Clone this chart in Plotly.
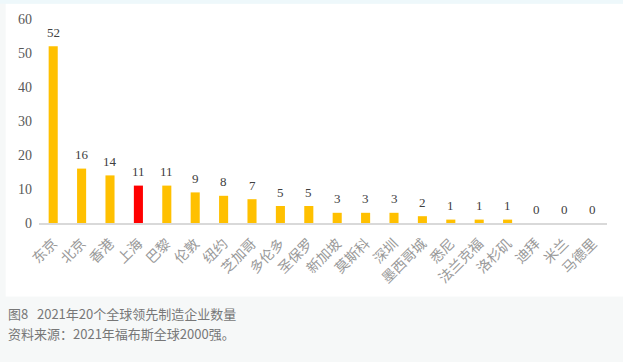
import plotly.graph_objects as go

cities = ["东京", "北京", "香港", "上海", "巴黎", "伦敦", "纽约", "芝加哥", "多伦多", "圣保罗",
          "新加坡", "莫斯科", "深圳", "墨西哥城", "悉尼", "法兰克福", "洛杉矶", "迪拜", "米兰", "马德里"]
counts = [52, 16, 14, 11, 11, 9, 8, 7, 5, 5, 3, 3, 3, 2, 1, 1, 1, 0, 0, 0]
highlight = "上海"
y_ticks = [0, 10, 20, 30, 40, 50, 60]
caption1 = "图8\u00a0\u00a0\u00a02021年20个全球领先制造企业数量"
caption2 = "资料来源：2021年福布斯全球2000强。"

colors = ["#ff0000" if c == highlight else "#ffc000" for c in cities]

fig = go.Figure()
fig.add_trace(go.Bar(x=cities, y=counts, marker=dict(color=colors, line=dict(width=0)),
                     hoverinfo="x+y"))

for c, v in zip(cities, counts):
    fig.add_annotation(x=c, y=v, text=str(v), showarrow=False, yanchor="middle", yshift=14,
                       font=dict(family="Liberation Serif, Times New Roman, serif", size=13, color="#404040"))

PW, PH = 567.4, 204.0
fig.add_shape(type="rect", xref="paper", yref="paper", layer="below",
              x0=-33.3/PW, x1=1 + 16/PW, y0=-(296.7-223.3)/PH, y1=1 + (19.3-4)/PH,
              fillcolor="#ffffff", line=dict(width=0))
fig.add_shape(type="rect", xref="paper", yref="paper", layer="below",
              x0=-39.3/PW, x1=1 + 16/PW, y0=1 + (19.3-4)/PH, y1=1 + 19.3/PH,
              fillcolor="#eef8fb", line=dict(width=0))

fig.add_annotation(xref="paper", yref="paper", x=-33.3/PW, y=-(314-223.3)/PH, xanchor="left",
                   yanchor="middle", text=caption1, showarrow=False,
                   font=dict(family="Noto Sans CJK SC", size=13, color="#777777"))
fig.add_annotation(xref="paper", yref="paper", x=-33.3/PW, y=-(334-223.3)/PH, xanchor="left",
                   yanchor="middle", text=caption2, showarrow=False,
                   font=dict(family="Noto Sans CJK SC", size=13, color="#777777"))

fig.update_layout(
    width=623, height=362,
    margin=dict(l=39, r=16, t=19, b=139, pad=0),
    paper_bgcolor="#f6f8f8", plot_bgcolor="#ffffff",
    bargap=0.68, showlegend=False,
    xaxis=dict(tickangle=-45, showline=True, linecolor="#d9d9d9", linewidth=1.5,
               showgrid=False, ticks="", automargin=False, ticklabelstandoff=5,
               tickfont=dict(family="Noto Sans CJK SC", size=14, color="#999999"),
               fixedrange=True),
    yaxis=dict(range=[0, 60], tickvals=y_ticks, showgrid=False, zeroline=False, showline=False,
               ticks="", ticklabelstandoff=6, automargin=False, fixedrange=True,
               tickfont=dict(family="Liberation Serif, Times New Roman, serif", size=14, color="#595959")),
)

fig.write_html("out.html", config={"displayModeBar": False},
               post_script="document.body.style.margin='0';document.body.style.padding='0';")
